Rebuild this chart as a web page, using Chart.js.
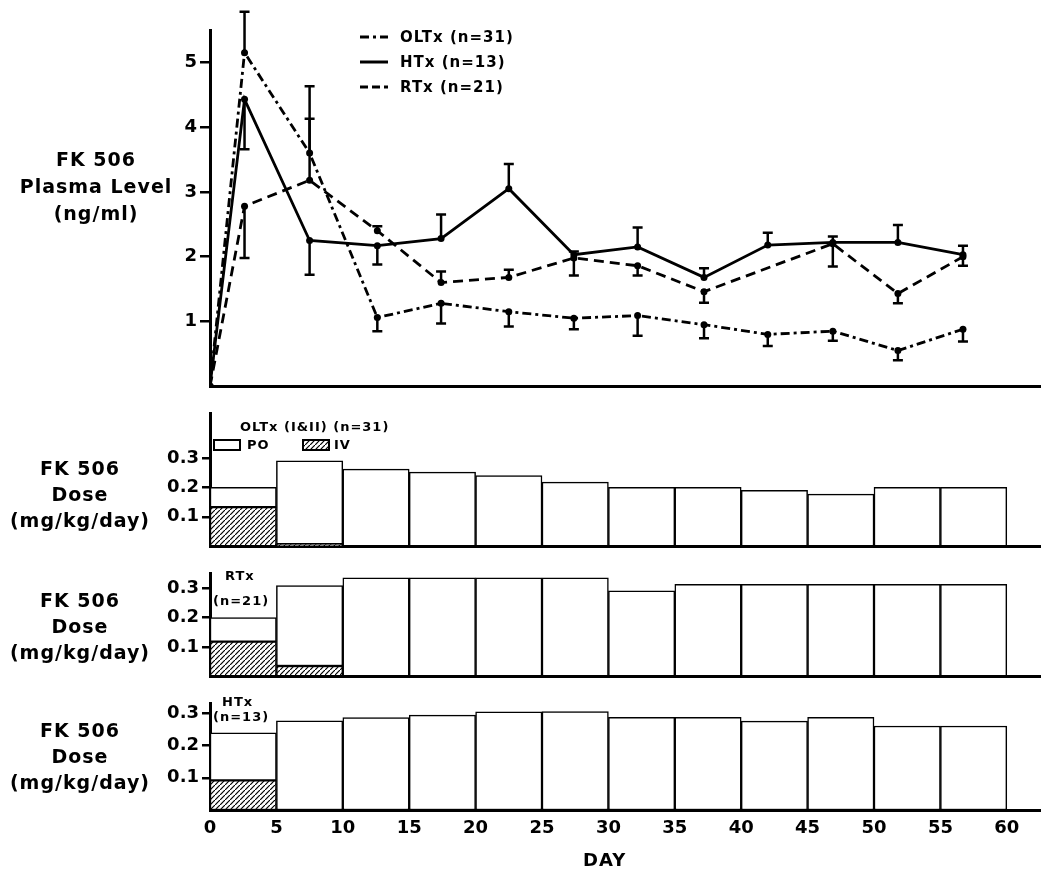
<!DOCTYPE html>
<html>
<head>
<meta charset="utf-8">
<script src="https://cdn.jsdelivr.net/npm/chart.js@4.4.0/dist/chart.umd.min.js"></script>
<style>
    html, body { margin: 0; padding: 0; background: #fff; }
    #wrap { position: relative; width: 1050px; height: 885px; background: #fff; overflow: hidden; }
    .box { position: absolute; left: 0; width: 1050px; }
    .txt { position: absolute; font-family: "DejaVu Sans", sans-serif; font-weight: bold; color: #000; white-space: nowrap; }
    .side { text-align: center; font-size: 19px; letter-spacing: 1px; }
    .note { font-size: 13px; letter-spacing: 1px; line-height: 16px; }
    .leg { font-size: 15px; letter-spacing: 1px; line-height: 18px; }
    svg { position: absolute; left: 0; top: 0; }
</style>
</head>
<body>
<div id="wrap">
    <div class="box" style="top:0;height:400px"><canvas id="levelChart"></canvas></div>
    <div class="box" style="top:400px;height:160px"><canvas id="oltxChart"></canvas></div>
    <div class="box" style="top:560px;height:130px"><canvas id="rtxChart"></canvas></div>
    <div class="box" style="top:690px;height:170px"><canvas id="htxChart"></canvas></div>

    <div class="txt side" style="left:0;width:192px;top:146px;line-height:27px">FK 506<br>Plasma Level<br>(ng/ml)</div>
    <div class="txt side" style="left:0;width:160px;top:455px;line-height:26px">FK 506<br>Dose<br>(mg/kg/day)</div>
    <div class="txt side" style="left:0;width:160px;top:587px;line-height:26px">FK 506<br>Dose<br>(mg/kg/day)</div>
    <div class="txt side" style="left:0;width:160px;top:717px;line-height:26px">FK 506<br>Dose<br>(mg/kg/day)</div>

    <svg width="1050" height="885">
        <defs>
            <pattern id="hatch" width="5" height="5" patternUnits="userSpaceOnUse">
                <path d="M-1,6 L6,-1" stroke="#000" stroke-width="1.2"/>
            </pattern>
        </defs>
        <line x1="360" y1="37" x2="388" y2="37" stroke="#000" stroke-width="3" stroke-dasharray="9 4 3 4"/>
        <line x1="360" y1="62" x2="388" y2="62" stroke="#000" stroke-width="3"/>
        <line x1="360" y1="87" x2="388" y2="87" stroke="#000" stroke-width="3" stroke-dasharray="8 4"/>
        <rect x="214" y="440" width="26" height="10" fill="#fff" stroke="#000" stroke-width="2"/>
        <rect x="303" y="440" width="26" height="10" fill="url(#hatch)" stroke="#000" stroke-width="2"/>
    </svg>

    <div class="txt leg" style="left:400px;top:28px">OLTx (n=31)</div>
    <div class="txt leg" style="left:400px;top:53px">HTx (n=13)</div>
    <div class="txt leg" style="left:400px;top:78px">RTx (n=21)</div>

    <div class="txt note" style="left:240px;top:419px">OLTx (I&amp;II) (n=31)</div>
    <div class="txt note" style="left:247px;top:437px">PO</div>
    <div class="txt note" style="left:334px;top:437px">IV</div>
    <div class="txt note" style="left:225px;top:568px">RTx</div>
    <div class="txt note" style="left:213px;top:593px">(n=21)</div>
    <div class="txt note" style="left:222px;top:694px">HTx</div>
    <div class="txt note" style="left:213px;top:709px">(n=13)</div>

    <div class="txt" style="left:583px;top:849px;font-size:18px;letter-spacing:1px">DAY</div>
</div>

<script>
// plasma level (day of sample, mean, end of error bar)
const levelDays = [0, 2.6, 7.5, 12.6, 17.4, 22.5, 27.4, 32.2, 37.2, 42.0, 46.9, 51.8, 56.7];
const oltxLevel = [0, 5.15, 3.6, 1.06, 1.28, 1.15, 1.05, 1.09, 0.95, 0.8, 0.85, 0.55, 0.88];
const oltxErr = [null, 5.78, 4.63, 0.85, 0.97, 0.92, 0.88, 0.78, 0.74, 0.62, 0.70, 0.40, 0.69];
const htxLevel = [0, 4.43, 2.25, 2.17, 2.28, 3.05, 2.03, 2.15, 1.68, 2.18, 2.22, 2.22, 2.03];
const htxErr = [null, 3.66, 1.72, 1.88, 2.65, 3.43, 2.08, 2.45, 1.82, 2.37, 2.31, 2.49, 2.17];
const rtxLevel = [0, 2.78, 3.18, 2.4, 1.6, 1.68, 1.98, 1.86, 1.46, null, 2.2, 1.43, 2.0];
const rtxErr = [null, 1.98, 4.13, 2.47, 1.77, 1.8, 1.71, 1.71, 1.29, null, 1.85, 1.28, 1.86];
const levelTicks = [1, 2, 3, 4, 5];

// dose per 5-day block (total height and IV part)
const doseDays = [2.5, 7.5, 12.5, 17.5, 22.5, 27.5, 32.5, 37.5, 42.5, 47.5, 52.5, 57.5];
const oltxTotal = [0.2, 0.29, 0.262, 0.252, 0.24, 0.218, 0.2, 0.2, 0.19, 0.177, 0.2, 0.2];
const oltxIv = [0.133, 0.007, null, null, null, null, null, null, null, null, null, null];
const rtxTotal = [0.2, 0.31, 0.336, 0.336, 0.336, 0.336, 0.292, 0.314, 0.314, 0.314, 0.314, 0.314];
const rtxIv = [0.118, 0.035, null, null, null, null, null, null, null, null, null, null];
const htxTotal = [0.24, 0.277, 0.287, 0.295, 0.305, 0.306, 0.288, 0.288, 0.276, 0.288, 0.261, 0.261];
const htxIv = [0.092, null, null, null, null, null, null, null, null, null, null, null];
const doseTicks = [0.1, 0.2, 0.3];
const dayTicks = [0, 5, 10, 15, 20, 25, 30, 35, 40, 45, 50, 55, 60];

Chart.defaults.font.family = '"DejaVu Sans", sans-serif';
Chart.defaults.font.weight = 'bold';
Chart.defaults.color = '#000';
Chart.defaults.animation = false;

const errorBars = {
    id: 'errorBars',
    afterDatasetsDraw(chart) {
        const { ctx, scales: { x, y } } = chart;
        ctx.save();
        ctx.strokeStyle = '#000';
        ctx.lineWidth = 2.5;
        ctx.setLineDash([]);
        chart.data.datasets.forEach((ds) => {
            (ds.errEnds || []).forEach((end, i) => {
                const pt = ds.data[i];
                if (end == null || pt.y == null) return;
                const px = x.getPixelForValue(pt.x);
                const py = y.getPixelForValue(pt.y);
                const ey = y.getPixelForValue(end);
                ctx.beginPath();
                ctx.moveTo(px, py);
                ctx.lineTo(px, ey);
                ctx.moveTo(px - 5, ey);
                ctx.lineTo(px + 5, ey);
                ctx.stroke();
            });
        });
        ctx.restore();
    }
};

const toPoints = (xs, ys) => xs.map((x, i) => ({ x, y: ys[i] }));

function yAxis(max, ticks, tickLen) {
    return {
        min: 0,
        max,
        afterFit: (s) => { s.width = 210; },
        afterBuildTicks: (s) => { s.ticks = ticks.map((v) => ({ value: v })); },
        ticks: { font: { size: 18 }, padding: 3, callback: (v) => String(v) },
        grid: { drawOnChartArea: false, tickLength: tickLen, color: '#000', lineWidth: 2.5 },
        border: { display: true, color: '#000', width: 3 }
    };
}

function xAxis(showLabels, height) {
    return {
        type: 'linear',
        min: 0,
        max: 62.5,
        offset: false,
        afterFit: (s) => { s.height = height; },
        afterBuildTicks: (s) => { s.ticks = dayTicks.map((v) => ({ value: v })); },
        ticks: { display: showLabels, font: { size: 18 }, padding: 8, maxRotation: 0 },
        grid: { display: false, drawTicks: false, offset: false },
        border: { display: true, color: '#000', width: 3 }
    };
}

function lineSet(label, ys, errs, dash) {
    return {
        label,
        data: toPoints(levelDays, ys),
        errEnds: errs,
        borderColor: '#000',
        borderWidth: 2.8,
        borderDash: dash,
        pointRadius: 3.5,
        pointBackgroundColor: '#000',
        pointBorderWidth: 0,
        spanGaps: true,
        tension: 0
    };
}

new Chart(document.getElementById('levelChart'), {
    type: 'line',
    data: {
        datasets: [
            lineSet('OLTx (n=31)', oltxLevel, oltxErr, [9, 4, 3, 4]),
            lineSet('HTx (n=13)', htxLevel, htxErr, []),
            lineSet('RTx (n=21)', rtxLevel, rtxErr, [10, 6])
        ]
    },
    options: {
        responsive: true,
        maintainAspectRatio: false,
        layout: { padding: { top: 30, right: 10, bottom: 12, left: 0 } },
        plugins: { legend: { display: false }, tooltip: { enabled: false } },
        scales: { x: xAxis(false, 0), y: yAxis(5.5, levelTicks, 10) }
    },
    plugins: [errorBars]
});

function makeHatch() {
    const c = document.createElement('canvas');
    c.width = 5;
    c.height = 5;
    const g = c.getContext('2d');
    g.fillStyle = '#fff';
    g.fillRect(0, 0, 5, 5);
    g.strokeStyle = '#000';
    g.lineWidth = 1.2;
    g.beginPath();
    g.moveTo(-1, 6);
    g.lineTo(6, -1);
    g.stroke();
    return g.createPattern(c, 'repeat');
}
const hatch = makeHatch();

function doseChart(id, totals, iv, max, padTop, padBottom, xHeight, showLabels) {
    const po = totals.map((t, i) => +(t - (iv[i] || 0)).toFixed(3));
    const common = {
        borderColor: '#000',
        borderWidth: 1.5,
        borderSkipped: false,
        barPercentage: 1,
        categoryPercentage: 1
    };
    new Chart(document.getElementById(id), {
        type: 'bar',
        data: {
            datasets: [
                { label: 'IV', data: toPoints(doseDays, iv), backgroundColor: hatch, ...common },
                { label: 'PO', data: toPoints(doseDays, po), backgroundColor: '#fff', ...common }
            ]
        },
        options: {
            responsive: true,
            maintainAspectRatio: false,
            layout: { padding: { top: padTop, right: 10, bottom: padBottom, left: 0 } },
            plugins: { legend: { display: false }, tooltip: { enabled: false } },
            scales: {
                x: { ...xAxis(showLabels, xHeight), stacked: true },
                y: { ...yAxis(max, doseTicks, 8), stacked: true }
            }
        }
    });
}

doseChart('oltxChart', oltxTotal, oltxIv, 0.45, 9, 8, 0, false);
doseChart('rtxChart', rtxTotal, rtxIv, 0.35, 9, 7, 0, false);
doseChart('htxChart', htxTotal, htxIv, 0.33, 11, 0, 50, true);
</script>
</body>
</html>
